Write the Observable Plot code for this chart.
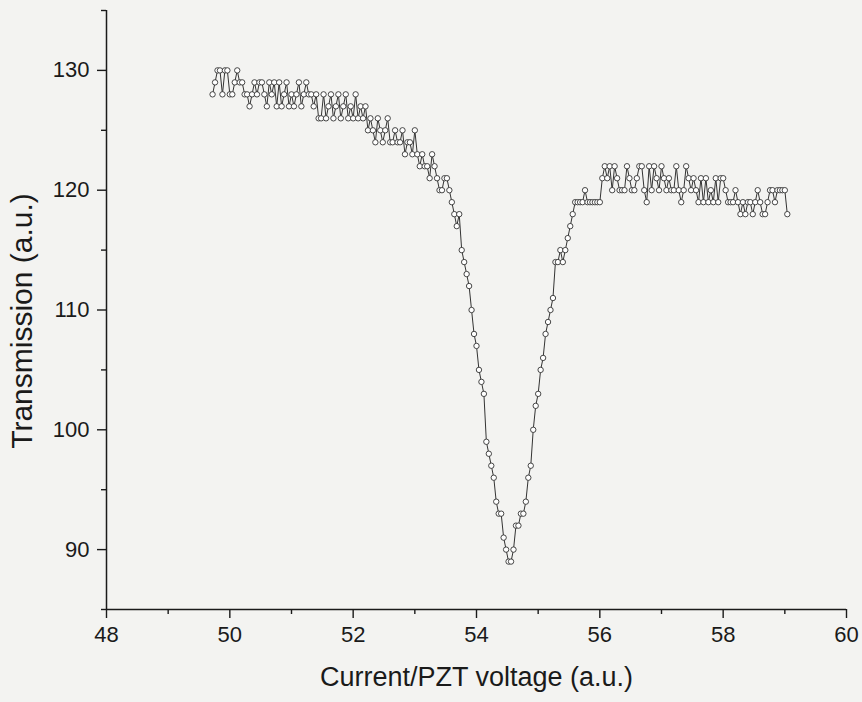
<!DOCTYPE html>
<html><head><meta charset="utf-8">
<script src="https://cdn.jsdelivr.net/npm/d3@7"></script>
<script src="https://cdn.jsdelivr.net/npm/@observablehq/plot@0.6"></script>
<style>
html,body{margin:0;padding:0;background:#f3f3f1;}
#chart svg{display:block;}
</style></head><body><div id="chart"></div>
<script>
const voltage = [
49.72,49.76,49.80,49.84,49.88,49.92,49.96,50.00,50.04,50.08,
50.12,50.16,50.20,50.24,50.28,50.32,50.36,50.40,50.44,50.48,
50.52,50.56,50.60,50.64,50.68,50.72,50.76,50.80,50.84,50.88,
50.92,50.96,51.00,51.04,51.08,51.12,51.16,51.20,51.24,51.28,
51.32,51.36,51.40,51.44,51.48,51.52,51.56,51.60,51.64,51.68,
51.72,51.76,51.80,51.84,51.88,51.92,51.96,52.00,52.04,52.08,
52.12,52.16,52.20,52.24,52.28,52.32,52.36,52.40,52.44,52.48,
52.52,52.56,52.60,52.64,52.68,52.72,52.76,52.80,52.84,52.88,
52.92,52.96,53.00,53.04,53.08,53.12,53.16,53.20,53.24,53.28,
53.32,53.36,53.40,53.44,53.48,53.52,53.56,53.60,53.64,53.68,
53.72,53.76,53.80,53.84,53.88,53.92,53.96,54.00,54.04,54.08,
54.12,54.16,54.20,54.24,54.28,54.32,54.36,54.40,54.44,54.48,
54.52,54.56,54.60,54.64,54.68,54.72,54.76,54.80,54.84,54.88,
54.92,54.96,55.00,55.04,55.08,55.12,55.16,55.20,55.24,55.28,
55.32,55.36,55.40,55.44,55.48,55.52,55.56,55.60,55.64,55.68,
55.72,55.76,55.80,55.84,55.88,55.92,55.96,56.00,56.04,56.08,
56.12,56.16,56.20,56.24,56.28,56.32,56.36,56.40,56.44,56.48,
56.52,56.56,56.60,56.64,56.68,56.72,56.76,56.80,56.84,56.88,
56.92,56.96,57.00,57.04,57.08,57.12,57.16,57.20,57.24,57.28,
57.32,57.36,57.40,57.44,57.48,57.52,57.56,57.60,57.64,57.68,
57.72,57.76,57.80,57.84,57.88,57.92,57.96,58.00,58.04,58.08,
58.12,58.16,58.20,58.24,58.28,58.32,58.36,58.40,58.44,58.48,
58.52,58.56,58.60,58.64,58.68,58.72,58.76,58.80,58.84,58.88,
58.92,58.96,59.00,59.04
];
const transmission = [
128,129,130,130,128,130,130,128,128,129,
130,129,129,128,128,127,128,129,128,129,
129,128,127,129,128,129,127,129,127,128,
129,127,128,127,128,129,127,128,129,128,
128,127,128,126,126,128,126,127,128,126,
127,128,126,127,128,126,127,126,128,126,
127,126,127,125,126,125,124,126,125,124,
125,126,124,124,125,124,124,125,123,124,
124,123,125,123,122,123,122,122,121,123,
122,121,120,120,121,121,120,119,118,117,
118,115,114,113,112,110,108,107,105,104,
103,99,98,97,96,94,93,93,91,90,
89,89,90,92,92,93,93,94,96,97,
100,102,103,105,106,108,109,110,111,114,
114,115,114,115,116,117,118,119,119,119,
119,120,119,119,119,119,119,119,121,122,
121,122,120,122,121,120,120,120,122,121,
120,120,121,122,122,120,119,122,120,122,
121,120,122,121,120,121,120,120,122,120,
119,120,122,121,120,121,120,119,121,119,
121,119,120,119,121,119,121,121,120,119,
119,119,120,119,118,119,118,119,119,118,
119,120,119,118,118,119,120,120,119,120,
120,120,120,118
];
const xMajorTicks = [48, 50, 52, 54, 56, 58, 60];
const xMinorTicks = [49, 51, 53, 55, 57, 59];
const yMajorTicks = [90, 100, 110, 120, 130];
const yMinorTicks = [85, 95, 105, 115, 125, 135];
const xTitle = "Current/PZT voltage (a.u.)";
const yTitle = "Transmission (a.u.)";

const data = voltage.map((v, i) => ({v, t: transmission[i]}));
const font = "Liberation Sans, Arial, Helvetica, sans-serif";

const chart = Plot.plot({
  width: 862,
  height: 702,
  marginLeft: 106,
  marginRight: 16,
  marginTop: 10,
  marginBottom: 93,
  style: {background: "transparent", fontFamily: font, color: "#1a1a1a"},
  x: {domain: [48, 60]},
  y: {domain: [85, 135]},
  marks: [
    Plot.ruleX([48], {stroke: "#1a1a1a", strokeWidth: 1.5}),
    Plot.ruleY([85], {stroke: "#1a1a1a", strokeWidth: 1.5}),
    Plot.axisX({ticks: xMajorTicks, tickSize: 9, tickPadding: 8, fontSize: 22, label: null, strokeWidth: 1.4}),
    Plot.axisX({ticks: xMinorTicks, tickSize: 5, text: null, label: null, strokeWidth: 1.4}),
    Plot.axisY({ticks: yMajorTicks, tickSize: 9, tickPadding: 8, fontSize: 22, label: null, strokeWidth: 1.4}),
    Plot.axisY({ticks: yMinorTicks, tickSize: 5, text: null, label: null, strokeWidth: 1.4}),
    Plot.line(data, {x: "v", y: "t", stroke: "#333", strokeWidth: 1}),
    Plot.dot(data, {x: "v", y: "t", r: 2.7, stroke: "#333", strokeWidth: 0.9, fill: "white"}),
    Plot.text([xTitle], {frameAnchor: "bottom", dy: 76, fontSize: 27, fill: "#1a1a1a"}),
    Plot.text([yTitle], {frameAnchor: "left", textAnchor: "middle", dx: -84, dy: 11, rotate: -90, fontSize: 30, fill: "#1a1a1a"})
  ]
});
document.getElementById("chart").appendChild(chart);
</script>
</body></html>
